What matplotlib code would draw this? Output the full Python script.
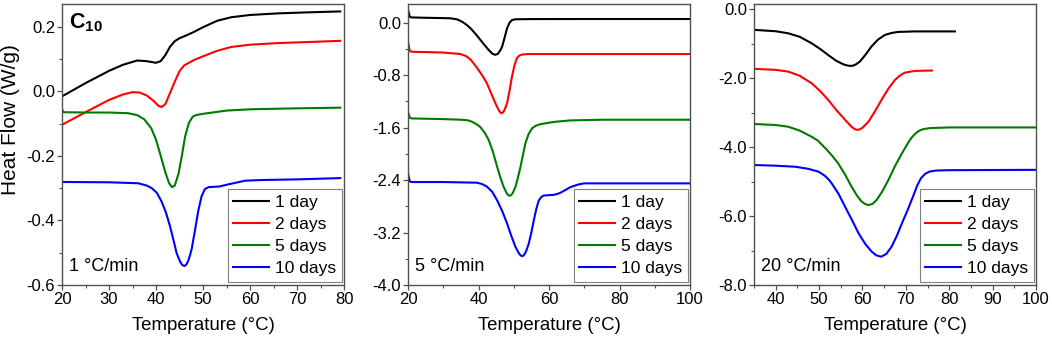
import matplotlib
matplotlib.use("Agg")
import matplotlib.pyplot as plt
from matplotlib.ticker import MultipleLocator, FormatStrFormatter

plt.rcParams['font.family'] = ['Liberation Sans', 'DejaVu Sans']
plt.rcParams['axes.unicode_minus'] = False
plt.rcParams['mathtext.fontset'] = 'custom'
plt.rcParams['mathtext.rm'] = 'Liberation Sans'
plt.rcParams['mathtext.bf'] = 'Liberation Sans:bold'

labels = ['1 day', '2 days', '5 days', '10 days']
colors = ['#000000', '#ff0000', '#007a00', '#0000ff']
rates = ['1 °C/min', '5 °C/min', '20 °C/min']

# ---- Panel 1: 1 °C/min ----
p1_black_T = [20, 25, 30, 33, 36, 38, 40, 41, 42, 43, 44, 45, 46, 48, 50, 53, 56, 60, 66, 72, 79.2]
p1_black_v = [-0.016, 0.025, 0.063, 0.082, 0.095, 0.093, 0.088, 0.093, 0.112, 0.138, 0.155, 0.164, 0.170,
              0.183, 0.198, 0.218, 0.229, 0.236, 0.241, 0.244, 0.247]
p1_red_T = [20, 25, 30, 33, 35, 36.5, 38, 39.5, 40.5, 41.2, 42, 43, 44, 45, 46, 48, 50, 53, 56, 60, 66, 72, 79.2]
p1_red_v = [-0.104, -0.065, -0.027, -0.010, -0.003, -0.004, -0.013, -0.030, -0.045, -0.049, -0.040, -0.005,
            0.030, 0.062, 0.080, 0.096, 0.108, 0.125, 0.137, 0.144, 0.149, 0.152, 0.156]
p1_green_T = [20, 20.3, 25, 30, 34, 36, 37.5, 39, 40, 41, 42, 42.8, 43.4, 44, 44.8, 45.5, 46.2, 47, 47.8, 48.5,
              50, 55, 60, 70, 79.2]
p1_green_v = [-0.055, -0.065, -0.066, -0.066, -0.068, -0.074, -0.087, -0.115, -0.150, -0.200, -0.252, -0.285,
              -0.297, -0.292, -0.255, -0.200, -0.140, -0.098, -0.079, -0.074, -0.070, -0.060, -0.056, -0.053, -0.051]
p1_blue_T = [20, 30, 36.2, 38, 39.1, 40.2, 41.2, 42.1, 43, 43.7, 44.4, 45.2, 45.6, 46, 46.4, 46.8, 47.2, 47.6,
             48.3, 49, 49.7, 50.4, 51.2, 53.5, 55.5, 59, 62.5, 70, 79.2]
p1_blue_v = [-0.281, -0.282, -0.285, -0.292, -0.300, -0.315, -0.342, -0.375, -0.419, -0.460, -0.502, -0.530,
             -0.538, -0.541, -0.538, -0.527, -0.510, -0.488, -0.430, -0.370, -0.325, -0.303, -0.297, -0.295,
             -0.288, -0.277, -0.275, -0.273, -0.269]

# ---- Panel 2: 5 °C/min ----
p2_black_T = [20, 20.5, 21, 25, 30, 32, 34, 35.5, 36.7, 38, 39.3, 40.5, 41.7, 42.9, 44, 44.8, 45.5, 46.2,
              46.7, 47.4, 48.1, 48.8, 49.5, 50.5, 55, 70, 100]
p2_black_v = [0.20, 0.09, 0.08, 0.075, 0.07, 0.067, 0.050, 0.010, -0.035, -0.10, -0.18, -0.26, -0.34, -0.417,
              -0.475, -0.49, -0.475, -0.42, -0.366, -0.23, -0.086, 0.00, 0.04, 0.052, 0.055, 0.056, 0.056]
p2_red_T = [20, 20.5, 21, 30, 34.9, 36.5, 37.8, 38.6, 39.6, 40.5, 41.5, 42.4, 43.6, 44.8, 45.7, 46.1, 46.5,
            46.9, 47.3, 48.1, 48.8, 49.5, 50.2, 50.9, 51.6, 52.5, 54, 60, 100]
p2_red_v = [-0.29, -0.43, -0.443, -0.455, -0.478, -0.51, -0.565, -0.62, -0.69, -0.76, -0.84, -0.925, -1.08,
            -1.23, -1.33, -1.365, -1.38, -1.37, -1.34, -1.23, -1.04, -0.82, -0.65, -0.54, -0.50, -0.485,
            -0.478, -0.478, -0.478]
p2_green_T = [20, 20.5, 21, 30, 35, 36.7, 37.7, 38.5, 39.5, 40.5, 41.8, 42.9, 44.1, 45.3, 46.2, 47.1, 48,
              48.4, 48.8, 49.2, 49.7, 50.5, 51.2, 51.9, 52.6, 53.3, 54.2, 55.2, 56.3, 57.6, 60, 62, 66.1, 75, 100]
p2_green_v = [-1.36, -1.45, -1.46, -1.47, -1.48, -1.486, -1.50, -1.52, -1.55, -1.59, -1.68, -1.79, -1.97,
              -2.20, -2.36, -2.50, -2.60, -2.63, -2.64, -2.63, -2.60, -2.50, -2.36, -2.20, -2.02, -1.84, -1.70,
              -1.61, -1.57, -1.547, -1.525, -1.51, -1.49, -1.48, -1.48]
p2_blue_T = [20, 20.5, 21, 30, 39.6, 41, 42.4, 43.9, 45.3, 46.7, 48.1, 49.3, 50.5, 51.5, 52, 52.4, 52.8,
             53.4, 54.2, 55, 55.7, 56.4, 57.1, 57.8, 58.5, 60, 61.4, 63, 64.7, 66, 67, 68.5, 70, 100]
p2_blue_v = [-2.30, -2.42, -2.43, -2.43, -2.44, -2.46, -2.50, -2.58, -2.71, -2.87, -3.06, -3.25, -3.42,
             -3.52, -3.55, -3.56, -3.55, -3.50, -3.38, -3.20, -3.01, -2.84, -2.71, -2.66, -2.635, -2.63,
             -2.625, -2.60, -2.55, -2.51, -2.49, -2.465, -2.45, -2.45]

# ---- Panel 3: 20 °C/min ----
p3_black_T = [35, 40, 42.9, 45.5, 48.3, 50.2, 52.1, 54, 55.6, 56.4, 57.1, 57.8, 58.5, 59.4, 60.7, 62.1, 63.6,
              65.2, 66.7, 68.2, 72.1, 81.3]
p3_black_v = [-0.60, -0.64, -0.70, -0.80, -0.99, -1.15, -1.33, -1.50, -1.60, -1.63, -1.645, -1.64, -1.60,
              -1.52, -1.32, -1.08, -0.88, -0.746, -0.69, -0.66, -0.645, -0.645]
p3_red_T = [35, 40, 42.9, 45.5, 48.3, 50.2, 52.1, 54, 56, 57.4, 58.1, 58.7, 59.3, 60, 61.4, 62.9, 64.4, 66,
            67.5, 68.7, 69.8, 72.1, 76]
p3_red_v = [-1.73, -1.76, -1.81, -1.93, -2.15, -2.37, -2.63, -2.93, -3.21, -3.40, -3.47, -3.50, -3.49,
            -3.44, -3.26, -2.96, -2.63, -2.30, -2.05, -1.92, -1.84, -1.79, -1.78]
p3_green_T = [35, 40, 42.9, 45.5, 48.3, 49.8, 51.8, 53, 54.4, 56, 57.5, 58.7, 59.8, 60.6, 61.4, 62.3, 63.3,
              64.6, 66, 67.5, 69.1, 70.6, 71.3, 72.1, 73, 74, 75.5, 80, 100]
p3_green_v = [-3.33, -3.36, -3.41, -3.52, -3.70, -3.82, -4.08, -4.25, -4.47, -4.80, -5.15, -5.40, -5.58,
              -5.65, -5.68, -5.65, -5.53, -5.28, -4.95, -4.55, -4.18, -3.86, -3.73, -3.62, -3.53, -3.48,
              -3.45, -3.43, -3.43]
p3_blue_T = [35, 40, 44.5, 47.5, 49.8, 50.6, 51.4, 52.2, 52.9, 54.5, 56, 57.6, 59.1, 60.6, 62.1, 63.2, 64.3,
             65.5, 66.7, 67.9, 69.1, 70.4, 71.7, 72.6, 73.5, 74.5, 75.5, 77, 80, 100]
p3_blue_v = [-4.52, -4.54, -4.57, -4.63, -4.71, -4.77, -4.84, -4.94, -5.05, -5.36, -5.73, -6.12, -6.50,
             -6.80, -7.03, -7.14, -7.18, -7.10, -6.89, -6.58, -6.21, -5.83, -5.42, -5.12, -4.90, -4.77,
             -4.71, -4.68, -4.67, -4.66]

panels = [
    dict(series=[(p1_black_T, p1_black_v), (p1_red_T, p1_red_v), (p1_green_T, p1_green_v), (p1_blue_T, p1_blue_v)],
         xlim=(20, 80), ylim=(-0.6, 0.27), xmaj=10, xmin=5, ymaj=0.2, ymin=0.1, left=62),
    dict(series=[(p2_black_T, p2_black_v), (p2_red_T, p2_red_v), (p2_green_T, p2_green_v), (p2_blue_T, p2_blue_v)],
         xlim=(20, 100), ylim=(-4.0, 0.285), xmaj=20, xmin=10, ymaj=0.8, ymin=0.4, left=408),
    dict(series=[(p3_black_T, p3_black_v), (p3_red_T, p3_red_v), (p3_green_T, p3_green_v), (p3_blue_T, p3_blue_v)],
         xlim=(35, 100), ylim=(-8.0, 0.15), xmaj=10, xmin=5, ymaj=2.0, ymin=1.0, left=754),
]

W, H = 1052, 342
fig = plt.figure(figsize=(W / 100, H / 100), dpi=100)
spine_col = '#505050'

for i, p in enumerate(panels):
    ax = fig.add_axes([p['left'] / W, 1 - 285 / H, 282 / W, 281 / H])
    for (T, v), c, lab in zip(p['series'], colors, labels):
        ax.plot(T, v, color=c, lw=1.5, label=lab)
    ax.set_xlim(*p['xlim'])
    ax.set_ylim(*p['ylim'])
    ax.xaxis.set_major_locator(MultipleLocator(p['xmaj']))
    ax.xaxis.set_minor_locator(MultipleLocator(p['xmin']))
    ax.yaxis.set_major_locator(MultipleLocator(p['ymaj']))
    ax.yaxis.set_minor_locator(MultipleLocator(p['ymin']))
    ax.yaxis.set_major_formatter(FormatStrFormatter('%.1f'))
    ax.xaxis.set_major_formatter(FormatStrFormatter('%d'))
    ax.tick_params(which='major', direction='out', length=3.5, width=0.9, color=spine_col,
                   labelsize=12, pad=1.5)
    ax.tick_params(which='minor', direction='out', length=2, width=0.8, color=spine_col)
    for s in ax.spines.values():
        s.set_color(spine_col)
        s.set_linewidth(1.0)
    ax.set_xlabel('Temperature (°C)', fontsize=13.4, labelpad=7)
    leg = ax.legend(loc='lower right', bbox_to_anchor=(0.992, 0.012), borderaxespad=0,
                    fontsize=12.5, handlelength=2.1, handletextpad=0.35, labelspacing=0.41,
                    borderpad=0.3, fancybox=False, framealpha=1, edgecolor='#808080')
    leg.get_frame().set_linewidth(0.8)
    for ln in leg.get_lines():
        ln.set_linewidth(1.5)
    ax.text(0.026, 0.035, rates[i], transform=ax.transAxes, fontsize=13, ha='left', va='bottom')
    if i == 0:
        ax.text(0.025, 0.975, r'$\mathbf{C_{10}}$', transform=ax.transAxes, fontsize=15.5,
                ha='left', va='top')

fig.text(11 / W, 1 - 120 / H, 'Heat Flow (W/g)', rotation=90, fontsize=15, ha='center', va='center')

fig.savefig('out.png', dpi=100)
